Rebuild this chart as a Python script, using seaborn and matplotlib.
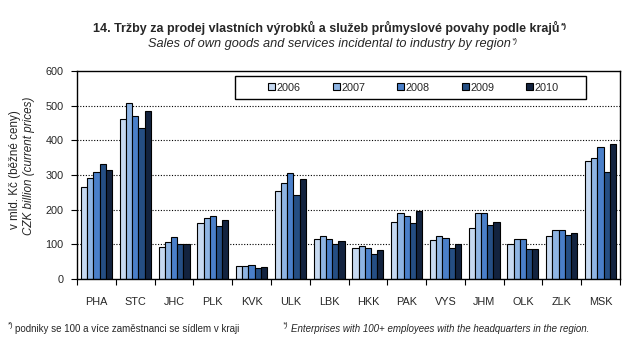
import pandas as pd
import numpy as np
import matplotlib.pyplot as plt
import seaborn as sns
from matplotlib.patches import Rectangle

sns.set_theme(style="white")
plt.rcParams['font.family'] = ['Liberation Sans', 'DejaVu Sans']

regions = ['PHA', 'STC', 'JHC', 'PLK', 'KVK', 'ULK', 'LBK', 'HKK', 'PAK', 'VYS', 'JHM', 'OLK', 'ZLK', 'MSK']
years = ['2006', '2007', '2008', '2009', '2010']

# bn CZK, current prices
v2006 = [264, 462, 92, 161, 37, 254, 115, 89, 164, 112, 147, 101, 124, 340]
v2007 = [291, 508, 107, 176, 37, 277, 124, 95, 190, 124, 190, 115, 141, 349]
v2008 = [309, 470, 121, 182, 40, 306, 115, 89, 182, 118, 190, 115, 141, 381]
v2009 = [332, 436, 101, 153, 32, 242, 101, 72, 161, 89, 156, 87, 127, 309]
v2010 = [314, 485, 101, 170, 35, 288, 110, 84, 196, 101, 164, 87, 133, 389]

colors = ['#c6d9f1', '#8eb4e3', '#4a7fc9', '#254e83', '#13233f']

series = [v2006, v2007, v2008, v2009, v2010]
df = pd.DataFrame({
    'region': regions * len(years),
    'year': [y for y in years for _ in regions],
    'value': [v for s in series for v in s],
})

fig = plt.figure(figsize=(6.43, 3.55), dpi=100)
ax = fig.add_axes([0.12, 0.214, 0.844, 0.586])

sns.barplot(data=df, x='region', y='value', hue='year', order=regions, hue_order=years,
            palette=colors, width=0.8, edgecolor='black', linewidth=0.8, saturation=1,
            ax=ax, legend=True)

ax.set_xlim(-0.5, len(regions) - 0.5)
ax.set_ylim(0, 600)
ax.set_yticks(range(0, 601, 100))
ax.set_xlabel('')
ax.set_ylabel('')

# ticks between groups, labels at group centres
ax.set_xticks(np.arange(-0.5, len(regions), 1.0))
ax.set_xticklabels([])
ax.set_xticks(range(len(regions)), minor=True)
ax.set_xticklabels(regions, minor=True, fontsize=7.8)
ax.tick_params(axis='x', which='major', direction='out', length=4, width=0.8, color='black', bottom=True)
ax.tick_params(axis='x', which='minor', length=0, pad=13)
ax.tick_params(axis='y', direction='out', length=4, width=0.8, color='black', left=True, labelsize=7.8, pad=6)

for y in range(100, 600, 100):
    ax.axhline(y, color='black', linestyle=(0, (1, 1.5)), linewidth=0.8, zorder=0)

for sp in ax.spines.values():
    sp.set_color('black')
    sp.set_linewidth(1.0)

# legend box
ax.add_patch(Rectangle((0.291, 0.865), 0.646, 0.111, transform=ax.transAxes, facecolor='white',
                       edgecolor='black', linewidth=1.0, zorder=5))
leg = ax.legend(ncol=5, loc='center left', bbox_to_anchor=(0.352, 0.92, 0.536, 0.0),
                mode='expand', frameon=False, fontsize=7.8, handlelength=0.65, handleheight=0.65,
                handletextpad=0.15, borderaxespad=0, borderpad=0)
leg.set_zorder(6)

# titles
t1 = fig.text(0.507, 0.910, '14. Tržby za prodej vlastních výrobků a služeb průmyslové povahy podle krajů',
              ha='center', va='baseline', fontsize=9, fontweight='bold')
t2 = fig.text(0.512, 0.868, 'Sales of own goods and services incidental to industry by region',
              ha='center', va='baseline', fontsize=9.2, style='italic')
fig.canvas.draw()
r = fig.canvas.get_renderer()
for t, y0, st, fw in [(t1, 0.910, 'normal', 'bold'), (t2, 0.868, 'italic', 'normal')]:
    bb = t.get_window_extent(r).transformed(fig.transFigure.inverted())
    fig.text(bb.x1 + 0.002, y0 + 0.012, '*)', fontsize=6, ha='left', va='baseline', style=st,
             fontweight=fw)

# y axis label
fig.text(0.024, 0.522, 'v mld. Kč (běžné ceny)', rotation=90, ha='center', va='center', fontsize=8.4)
fig.text(0.045, 0.532, 'CZK billion (current prices)', rotation=90, ha='center', va='center',
         fontsize=8.4, style='italic')

# footnotes
fig.text(0.012, 0.078, '*)', fontsize=5.5, ha='left', va='baseline')
fig.text(0.024, 0.065, 'podniky se 100 a více zaměstnanci se sídlem v kraji', fontsize=7,
         ha='left', va='baseline')
fig.text(0.44, 0.078, '*)', fontsize=5.5, ha='left', va='baseline', style='italic')
fig.text(0.452, 0.065, 'Enterprises with 100+ employees with the headquarters in the region.',
         fontsize=7, ha='left', va='baseline', style='italic')

fig.savefig('out.png', dpi=100)
